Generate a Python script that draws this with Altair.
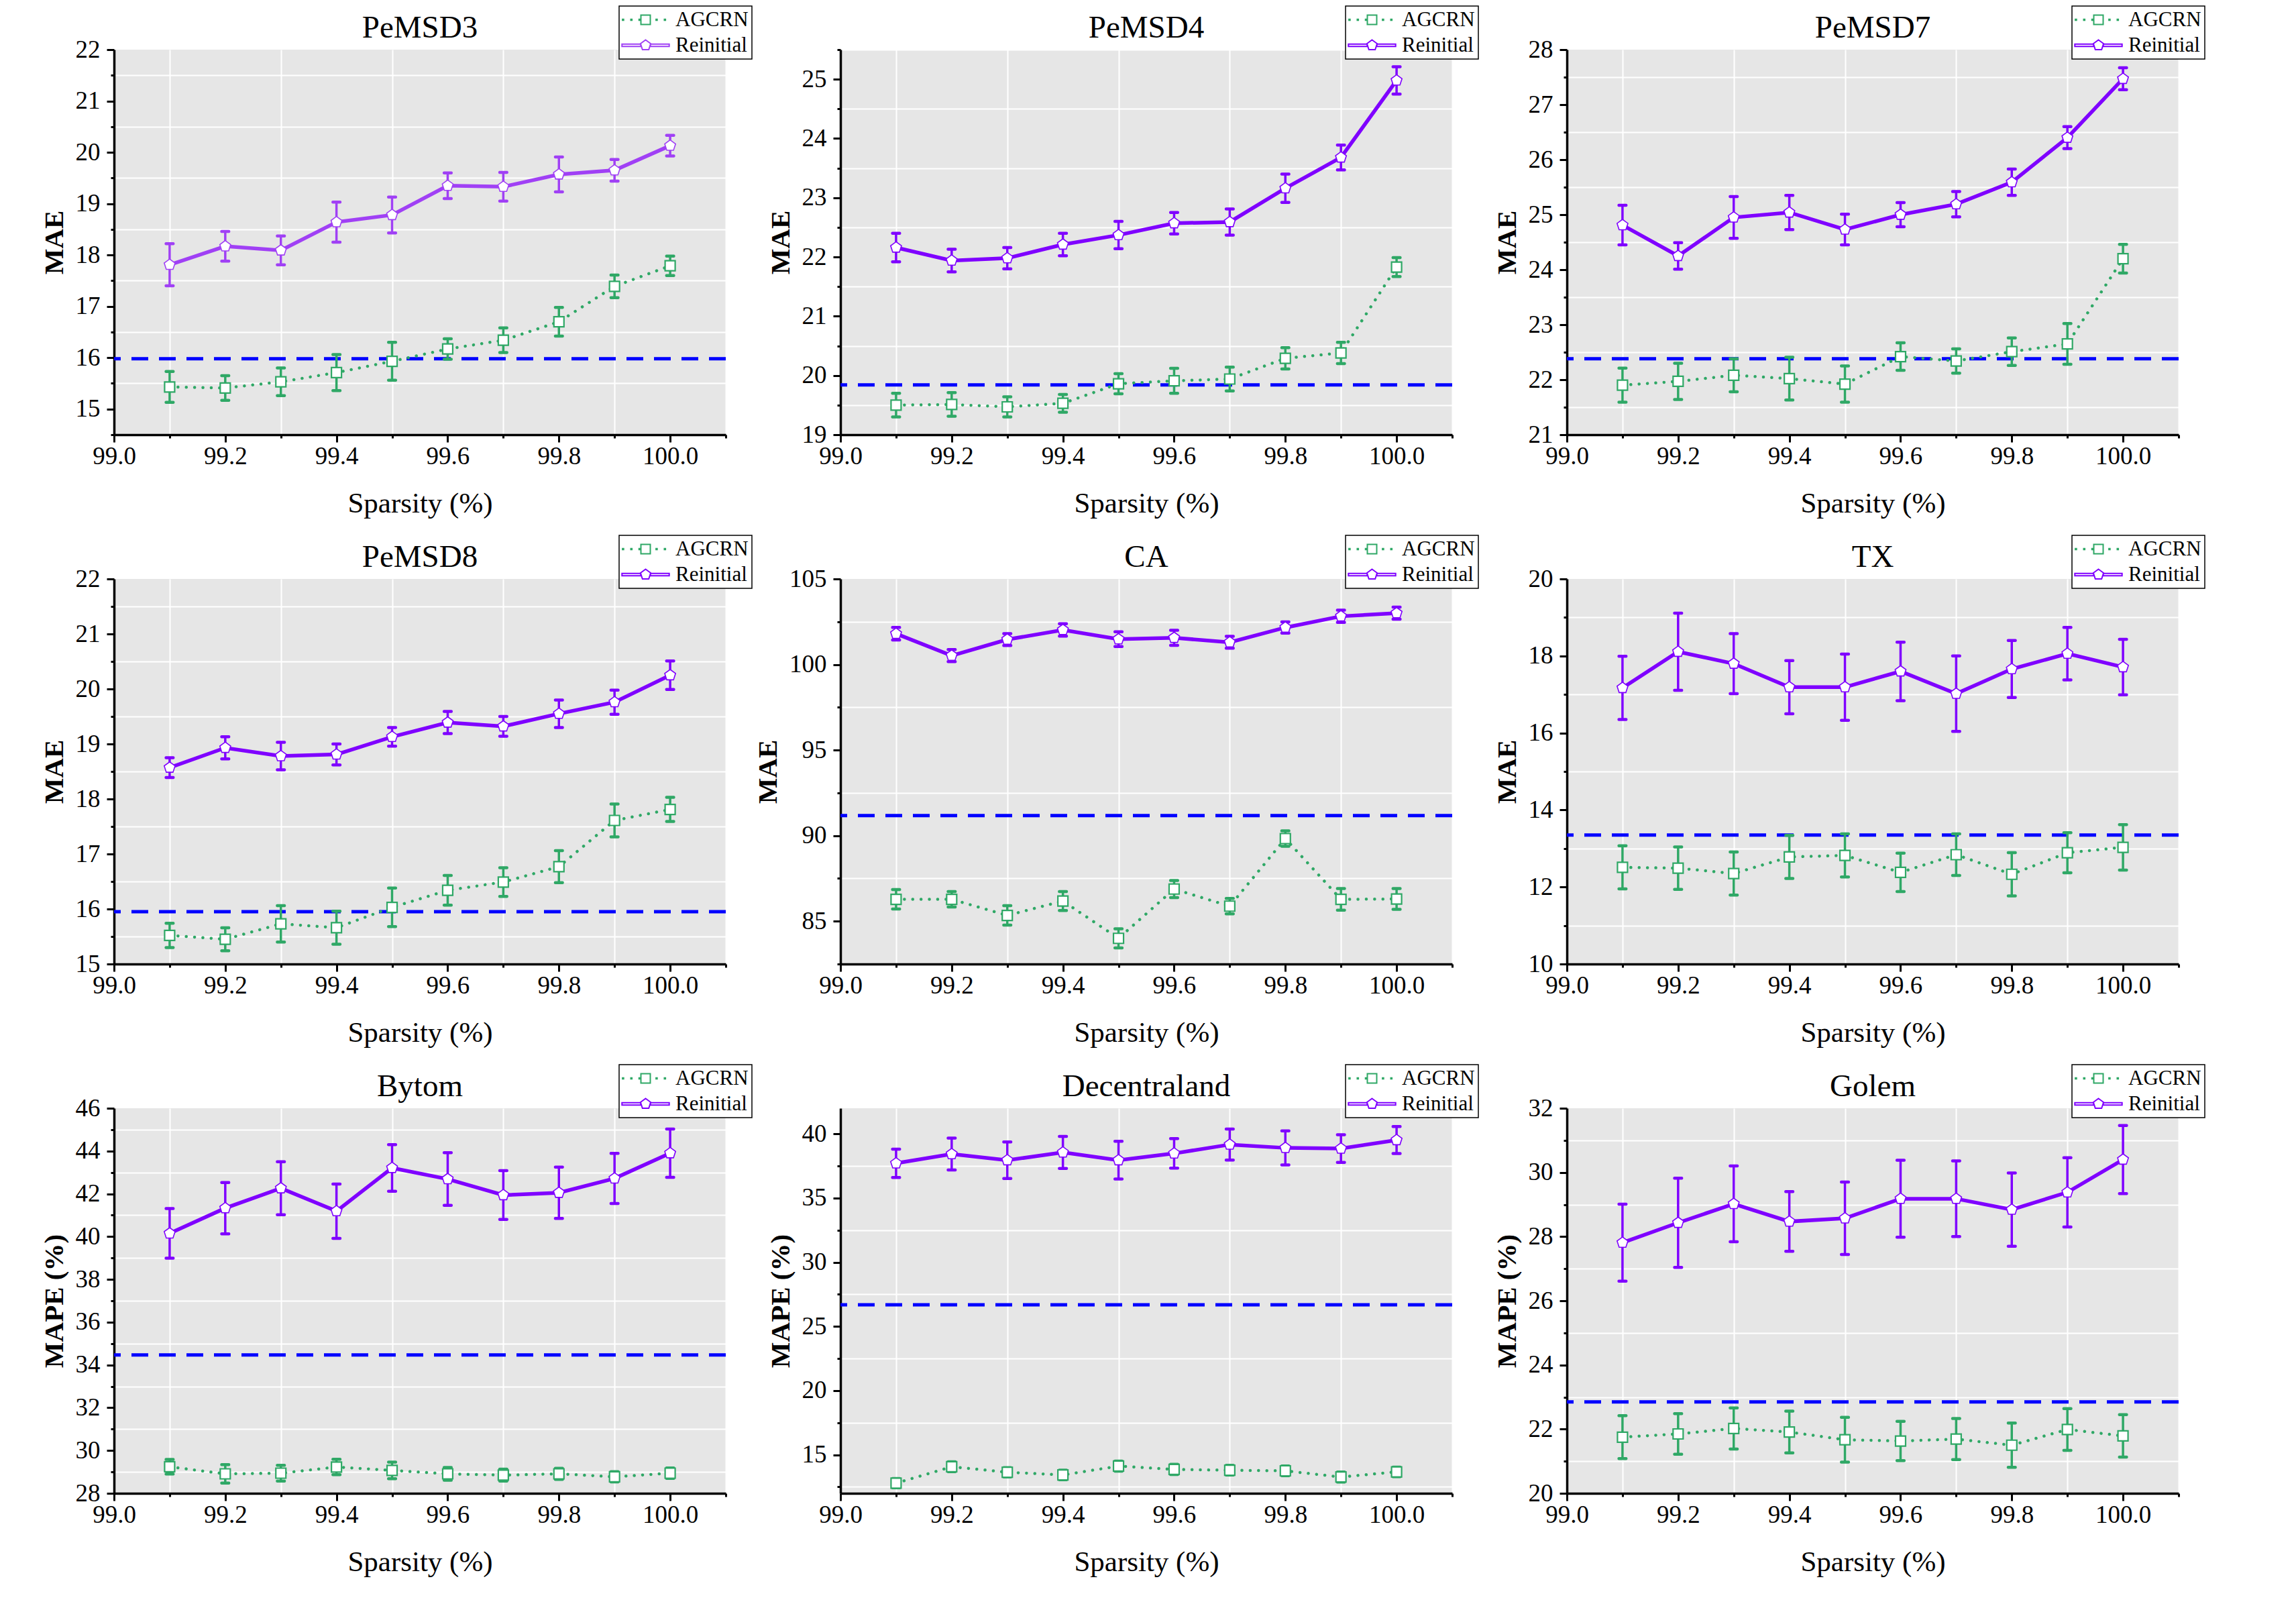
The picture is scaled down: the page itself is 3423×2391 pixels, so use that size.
import math
import altair as alt
import pandas as pd

# ---------------- data ----------------
sparsity = [99.1, 99.2, 99.3, 99.4, 99.5, 99.6, 99.7, 99.8, 99.9, 100.0]

pemsd3_agcrn = [15.43, 15.41, 15.53, 15.71, 15.93, 16.17, 16.34, 16.70, 17.39, 17.79]
pemsd3_agcrn_err = [0.30, 0.24, 0.27, 0.35, 0.37, 0.20, 0.24, 0.28, 0.22, 0.19]
pemsd3_reinit = [17.81, 18.17, 18.09, 18.64, 18.78, 19.35, 19.33, 19.57, 19.65, 20.13]
pemsd3_reinit_err = [0.41, 0.29, 0.28, 0.39, 0.35, 0.25, 0.28, 0.34, 0.21, 0.20]
pemsd3_base = 15.98

pemsd4_agcrn = [19.50, 19.51, 19.47, 19.53, 19.86, 19.91, 19.94, 20.29, 20.38, 21.83]
pemsd4_agcrn_err = [0.20, 0.20, 0.17, 0.15, 0.17, 0.21, 0.20, 0.18, 0.18, 0.16]
pemsd4_reinit = [22.16, 21.94, 21.98, 22.21, 22.37, 22.57, 22.59, 23.16, 23.68, 24.98]
pemsd4_reinit_err = [0.24, 0.19, 0.18, 0.19, 0.23, 0.18, 0.22, 0.24, 0.21, 0.23]
pemsd4_base = 19.84

pemsd7_agcrn = [21.90, 21.97, 22.08, 22.02, 21.92, 22.42, 22.34, 22.51, 22.65, 24.20]
pemsd7_agcrn_err = [0.31, 0.33, 0.30, 0.39, 0.33, 0.25, 0.22, 0.25, 0.37, 0.26]
pemsd7_reinit = [24.81, 24.25, 24.95, 25.04, 24.73, 25.00, 25.19, 25.59, 26.40, 27.47]
pemsd7_reinit_err = [0.36, 0.24, 0.38, 0.31, 0.28, 0.22, 0.23, 0.24, 0.20, 0.20]
pemsd7_base = 22.38

pemsd8_agcrn = [15.52, 15.45, 15.73, 15.66, 16.03, 16.34, 16.49, 16.77, 17.61, 17.81]
pemsd8_agcrn_err = [0.22, 0.21, 0.33, 0.30, 0.35, 0.27, 0.26, 0.29, 0.30, 0.22]
pemsd8_reinit = [18.57, 18.93, 18.78, 18.81, 19.13, 19.39, 19.32, 19.55, 19.76, 20.25]
pemsd8_reinit_err = [0.18, 0.20, 0.25, 0.19, 0.17, 0.20, 0.18, 0.25, 0.22, 0.26]
pemsd8_base = 15.95

ca_agcrn = [86.28, 86.28, 85.34, 86.18, 84.00, 86.88, 85.88, 89.83, 86.28, 86.30]
ca_agcrn_err = [0.57, 0.45, 0.57, 0.55, 0.56, 0.50, 0.45, 0.45, 0.63, 0.61]
ca_reinit = [101.80, 100.52, 101.46, 102.02, 101.48, 101.56, 101.30, 102.16, 102.82, 103.00]
ca_reinit_err = [0.37, 0.35, 0.35, 0.36, 0.43, 0.44, 0.35, 0.33, 0.36, 0.35]
ca_base = 91.17

tx_agcrn = [12.51, 12.49, 12.35, 12.78, 12.82, 12.38, 12.84, 12.33, 12.89, 13.03]
tx_agcrn_err = [0.56, 0.55, 0.56, 0.56, 0.56, 0.50, 0.54, 0.56, 0.52, 0.59]
tx_reinit = [17.17, 18.11, 17.80, 17.19, 17.19, 17.60, 17.02, 17.66, 18.06, 17.71]
tx_reinit_err = [0.82, 1.00, 0.78, 0.69, 0.86, 0.76, 0.98, 0.74, 0.68, 0.72]
tx_base = 13.35

bytom_agcrn = [29.24, 28.91, 28.94, 29.23, 29.07, 28.91, 28.85, 28.91, 28.77, 28.94]
bytom_agcrn_err = [0.34, 0.43, 0.37, 0.36, 0.39, 0.30, 0.28, 0.26, 0.24, 0.24]
bytom_reinit = [40.15, 41.33, 42.26, 41.19, 43.21, 42.69, 41.94, 42.05, 42.72, 43.90]
bytom_reinit_err = [1.16, 1.20, 1.24, 1.27, 1.09, 1.23, 1.14, 1.20, 1.17, 1.13]
bytom_base = 34.47

dec_agcrn = [12.79, 14.07, 13.64, 13.43, 14.12, 13.86, 13.80, 13.75, 13.27, 13.67]
dec_agcrn_err = [0.36, 0.38, 0.36, 0.37, 0.39, 0.40, 0.38, 0.38, 0.39, 0.37]
dec_reinit = [37.71, 38.43, 37.95, 38.56, 37.95, 38.48, 39.17, 38.91, 38.86, 39.52]
dec_reinit_err = [1.10, 1.24, 1.42, 1.25, 1.47, 1.15, 1.21, 1.33, 1.08, 1.05]
dec_base = 26.69

golem_agcrn = [21.75, 21.85, 22.02, 21.91, 21.67, 21.63, 21.69, 21.50, 21.99, 21.79]
golem_agcrn_err = [0.67, 0.63, 0.64, 0.65, 0.70, 0.61, 0.64, 0.69, 0.65, 0.66]
golem_reinit = [27.81, 28.43, 29.02, 28.47, 28.57, 29.18, 29.18, 28.84, 29.38, 30.40]
golem_reinit_err = [1.20, 1.39, 1.18, 0.93, 1.13, 1.20, 1.18, 1.14, 1.08, 1.06]
golem_base = 22.85

# ---------------- style ----------------
FONT = "Liberation Serif"
GREEN = "#2FA866"
PURPLE = "#7F00FF"
PURPLE_LIGHT = "#A040F5"
BLUE = "#0000FF"
MODELS = ["AGCRN", "Reinitial"]

PENT = "M0,-1L0.951,-0.309L0.588,0.809L-0.588,0.809L-0.951,-0.309Z"


def dot(c):
    return f"M{c - 0.1:.3f},-0.1h0.2v0.2h-0.2Z"


LEG_AGCRN = "".join(dot(c) for c in [-4.2, -2.65, -1.12, 2.05, 3.6]) + "M-0.875,-0.875H0.875V0.875H-0.875Z"
LEG_REIN = "M-4.4,-0.22H-0.9V0.22H-4.4Z M0.9,-0.22H4.4V0.22H0.9Z " + PENT

X_VALUES = [round(99.0 + 0.1 * i, 1) for i in range(12)]
X_MAJOR = "round(datum.value*10) % 2 == 0"


def make_panel(name, ytitle, ydomain, ystep, base, ag, ag_err, re, re_err, purple):
    df_ag = pd.DataFrame({"x": sparsity, "model": "AGCRN", "mean": ag, "err": ag_err})
    df_re = pd.DataFrame({"x": sparsity, "model": "Reinitial", "mean": re, "err": re_err})
    for d in (df_ag, df_re):
        d["lo"] = d["mean"] - d["err"]
        d["hi"] = d["mean"] + d["err"]
    df_all = pd.concat([df_ag, df_re], ignore_index=True)
    base_df = pd.DataFrame({"base": [base]})

    half = ystep / 2
    start = math.ceil(ydomain[0] / half - 1e-9)
    stop = math.floor(ydomain[1] / half + 1e-9)
    y_values = [round(k * half, 4) for k in range(start, stop + 1)]
    y_major = f"abs(datum.value/{ystep} - round(datum.value/{ystep})) < 0.001"

    x_axis = alt.Axis(
        values=X_VALUES,
        title="Sparsity (%)",
        labelExpr=f"{X_MAJOR} ? format(datum.value, '.1f') : ''",
        grid=True,
        gridOpacity={"condition": {"test": f"!({X_MAJOR})", "value": 1}, "value": 0},
        tickSize={"condition": {"test": X_MAJOR, "value": 11}, "value": 5},
    )
    y_axis = alt.Axis(
        values=y_values,
        title=ytitle,
        labelExpr=f"{y_major} ? format(datum.value, 'd') : ''",
        grid=True,
        gridOpacity={"condition": {"test": f"!({y_major})", "value": 1}, "value": 0},
        tickSize={"condition": {"test": y_major, "value": 11}, "value": 5},
    )
    xs = alt.Scale(domain=[99.0, 100.1], nice=False, zero=False)
    ys = alt.Scale(domain=ydomain, nice=False, zero=False)
    cs = alt.Scale(domain=MODELS, range=[GREEN, purple])

    def xe():
        return alt.X("x:Q", scale=xs, axis=x_axis)

    def ye(f):
        return alt.Y(f"{f}:Q", scale=ys, axis=y_axis)

    # legend carrier: invisible points, its colour/shape legend is the only legend
    legend_layer = alt.Chart(df_all).mark_point(
        size=0, filled=False, fill="white", strokeWidth=2, opacity=1
    ).encode(
        x=xe(),
        y=ye("mean"),
        color=alt.Color("model:N", scale=cs, legend=alt.Legend(title=None)),
        shape=alt.Shape(
            "model:N",
            scale=alt.Scale(domain=MODELS, range=[LEG_AGCRN, LEG_REIN]),
            legend=alt.Legend(title=None),
        ),
    )

    baseline = alt.Chart(base_df).mark_rule(
        color=BLUE, strokeDash=[25, 16], strokeWidth=5
    ).encode(y=ye("base"))

    layers = [legend_layer, baseline]

    line_ag = alt.Chart(df_ag).mark_line(
        color=GREEN, strokeDash=[0.1, 12.3], strokeCap="round", strokeWidth=4.5
    ).encode(x=xe(), y=ye("mean"))
    line_re = alt.Chart(df_re).mark_line(color=purple, strokeWidth=5.5).encode(
        x=xe(), y=ye("mean")
    )
    layers += [line_ag, line_re]

    for d, col in ((df_ag, GREEN), (df_re, purple)):
        layers.append(
            alt.Chart(d).mark_rule(color=col, strokeWidth=3.5).encode(
                x=xe(), y=ye("lo"), y2="hi:Q"
            )
        )
        for f in ("lo", "hi"):
            layers.append(
                alt.Chart(d).mark_tick(
                    color=col, orient="horizontal", size=15, thickness=4.5,
                    cornerRadius=2, opacity=1,
                ).encode(x=xe(), y=ye(f))
            )

    mk_ag = alt.Chart(df_ag).mark_point(
        shape="square", size=225, filled=False, fill="white", color=GREEN,
        strokeWidth=2.2, opacity=1,
    ).encode(x=xe(), y=ye("mean"))
    mk_re = alt.Chart(df_re).mark_point(
        shape=PENT, size=290, filled=False, fill="white", color=purple,
        strokeWidth=1.6, opacity=1,
    ).encode(x=xe(), y=ye("mean"))
    layers += [mk_ag, mk_re]

    return alt.layer(*layers).properties(
        width=912, height=574, title=alt.TitleParams(text=name, frame="group")
    )


panels = [
    make_panel("PeMSD3", "MAE", [14.5, 22], 1, pemsd3_base, pemsd3_agcrn, pemsd3_agcrn_err, pemsd3_reinit, pemsd3_reinit_err, PURPLE_LIGHT),
    make_panel("PeMSD4", "MAE", [19, 25.5], 1, pemsd4_base, pemsd4_agcrn, pemsd4_agcrn_err, pemsd4_reinit, pemsd4_reinit_err, PURPLE),
    make_panel("PeMSD7", "MAE", [21, 28], 1, pemsd7_base, pemsd7_agcrn, pemsd7_agcrn_err, pemsd7_reinit, pemsd7_reinit_err, PURPLE),
    make_panel("PeMSD8", "MAE", [15, 22], 1, pemsd8_base, pemsd8_agcrn, pemsd8_agcrn_err, pemsd8_reinit, pemsd8_reinit_err, PURPLE),
    make_panel("CA", "MAE", [82.5, 105], 5, ca_base, ca_agcrn, ca_agcrn_err, ca_reinit, ca_reinit_err, PURPLE),
    make_panel("TX", "MAE", [10, 20], 2, tx_base, tx_agcrn, tx_agcrn_err, tx_reinit, tx_reinit_err, PURPLE),
    make_panel("Bytom", "MAPE (%)", [28, 46], 2, bytom_base, bytom_agcrn, bytom_agcrn_err, bytom_reinit, bytom_reinit_err, PURPLE),
    make_panel("Decentraland", "MAPE (%)", [12, 42], 5, dec_base, dec_agcrn, dec_agcrn_err, dec_reinit, dec_reinit_err, PURPLE),
    make_panel("Golem", "MAPE (%)", [20, 32], 2, golem_base, golem_agcrn, golem_agcrn_err, golem_reinit, golem_reinit_err, PURPLE),
]

chart = (
    alt.concat(*panels, columns=3, spacing={"row": 215, "column": 171}, bounds="flush")
    .resolve_scale(color="independent", shape="independent")
    .properties(padding={"left": 52, "top": 0, "right": 5, "bottom": 5}, background="white")
    .configure_view(fill="#E6E6E6", strokeWidth=0)
    .configure_axis(
        domainColor="black",
        domainWidth=3.5,
        tickColor="black",
        tickWidth=3,
        labelFont=FONT,
        labelFontSize=37,
        labelColor="black",
        titleFont=FONT,
        titleColor="black",
        gridColor="white",
        gridWidth=2,
        labelFlush=False,
        labelOverlap=False,
    )
    .configure_axisX(titleFontSize=43, titleFontWeight="normal", labelPadding=3, titlePadding=31)
    .configure_axisY(titleFontSize=41, titleFontWeight="bold", labelPadding=10, titlePadding=10)
    .configure_title(
        font=FONT, fontSize=47, fontWeight="normal", color="black",
        baseline="alphabetic", offset=-58, anchor="middle",
    )
    .configure_legend(
        orient="none",
        legendX=753,
        legendY=-65,
        fillColor="white",
        strokeColor="black",
        strokeWidth=1.5,
        padding=5,
        labelFont=FONT,
        labelFontSize=31,
        labelColor="black",
        symbolSize=256,
        symbolStrokeWidth=2,
        symbolOffset=19,
        labelOffset=29,
        rowPadding=6,
        symbolFillColor="white",
        symbolOpacity=1,
    )
)

chart.save("out.html", embed_options={"renderer": "svg", "actions": False})
